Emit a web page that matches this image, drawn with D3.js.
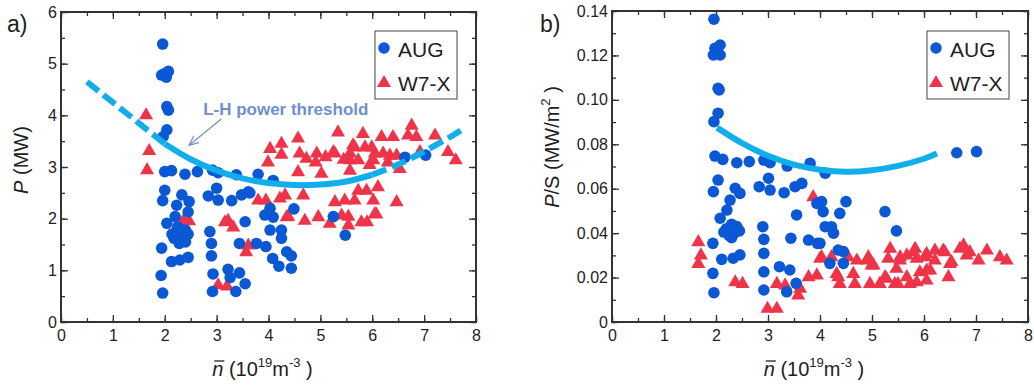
<!DOCTYPE html>
<html>
<head>
<meta charset="utf-8">
<script src="https://cdn.jsdelivr.net/npm/d3@7"></script>
<style>
  body { margin: 0; background: #fff; }
  svg { display: block; font-family: "Liberation Sans", Arial, sans-serif; }
</style>
</head>
<body>
<svg id="chart" width="1034" height="385"></svg>
<script>
// ---- data ----
const xTicks = [0, 1, 2, 3, 4, 5, 6, 7, 8];
const yTicksA = [0, 1, 2, 3, 4, 5, 6];
const yTicksB = [0, 0.02, 0.04, 0.06, 0.08, 0.10, 0.12, 0.14];
const seriesNames = ['AUG', 'W7-X'];

// panel a: [n, P (MW)]
const augA = [
  [1.96, 5.38], [2.00, 4.81], [2.07, 4.85], [1.94, 4.78], [2.03, 4.74],
  [2.04, 4.17], [2.07, 4.10], [2.04, 3.72], [1.97, 3.59],
  [2.00, 2.91], [2.13, 2.93], [2.39, 2.86], [2.63, 2.91], [2.92, 2.94], [3.03, 2.89],
  [3.38, 2.85], [3.80, 2.86], [4.09, 2.74], [3.61, 2.52],
  [2.00, 2.55], [1.96, 2.35], [2.33, 2.46], [2.47, 2.33], [2.23, 2.26], [2.45, 2.13],
  [2.20, 2.04], [2.04, 1.91], [2.84, 2.44], [3.00, 2.59], [3.03, 2.36], [3.29, 2.35],
  [3.48, 2.46], [3.64, 2.50],
  [2.25, 1.84], [2.30, 1.70], [2.18, 1.62], [2.40, 1.78], [2.35, 1.60], [2.14, 1.70],
  [2.45, 1.70], [2.28, 1.52], [2.40, 1.55], [2.22, 1.75],
  [1.94, 1.43], [2.13, 1.17], [2.29, 1.20], [2.45, 1.25], [1.93, 0.90], [1.96, 0.56],
  [2.87, 1.75], [2.90, 1.52], [2.90, 1.28], [2.93, 0.93], [2.92, 0.59],
  [3.22, 1.02], [3.44, 0.95], [3.26, 0.86], [3.55, 0.74], [3.37, 0.59],
  [3.44, 1.52], [3.55, 1.94], [3.77, 1.52], [3.95, 1.46],
  [4.03, 2.20], [4.09, 2.03], [3.93, 2.07], [4.03, 1.78], [4.25, 1.78], [4.25, 1.62],
  [4.08, 1.23], [4.20, 1.08], [4.35, 1.36], [4.44, 1.28], [4.44, 1.04],
  [4.49, 2.19], [5.25, 2.04], [5.48, 1.68], [6.63, 3.19], [7.03, 3.23]
];
const w7xA = [
  [1.64, 4.01], [1.70, 3.32], [1.66, 2.95],
  [2.47, 1.96], [2.36, 1.97], [3.16, 1.94], [3.32, 1.84], [3.22, 1.97],
  [3.61, 1.49], [3.57, 1.36], [3.03, 0.72], [3.20, 0.70],
  [3.80, 2.36], [3.95, 2.36], [4.32, 2.46], [4.35, 2.04], [4.22, 2.40],
  [4.03, 3.36], [4.25, 3.46], [3.99, 3.10], [4.25, 3.25],
  [4.57, 3.56], [4.60, 3.27], [4.73, 3.17], [4.93, 3.27], [4.91, 3.10],
  [4.57, 2.91], [5.02, 2.88], [5.34, 3.68], [5.28, 3.27], [5.25, 3.30], [5.10, 3.20],
  [5.57, 3.27], [5.66, 3.39], [5.63, 3.43], [5.82, 3.65], [5.86, 3.39], [5.99, 3.39],
  [6.05, 3.27], [6.18, 3.59], [6.21, 3.27], [6.40, 3.59], [6.47, 3.23],
  [6.76, 3.81], [6.69, 3.62], [6.85, 3.59], [6.92, 3.30], [7.21, 3.62],
  [7.46, 3.30], [7.61, 3.14], [6.53, 2.97], [6.34, 3.23], [6.30, 3.10],
  [5.57, 3.14], [5.73, 3.14], [6.02, 3.14], [5.45, 3.15], [5.95, 3.05], [5.57, 2.94],
  [5.73, 2.55], [5.89, 2.55], [6.11, 2.62], [6.02, 2.36], [6.47, 2.33],
  [5.66, 2.36], [5.47, 2.36], [5.28, 2.33], [4.67, 2.46],
  [4.38, 2.05], [4.70, 1.97], [4.96, 2.04], [5.18, 1.91], [5.41, 2.07],
  [5.54, 2.05], [5.54, 1.88], [5.79, 1.94], [5.90, 1.94], [6.08, 2.09], [6.05, 2.10]
];
// L-H threshold curve, panel a
const lhA = [
  [0.5, 4.65], [1.0, 4.25], [1.5, 3.85], [2.0, 3.45], [2.5, 3.15], [3.0, 2.93],
  [3.5, 2.78], [4.0, 2.69], [4.5, 2.65], [5.0, 2.66], [5.5, 2.72], [6.0, 2.85],
  [6.5, 3.05], [7.0, 3.30], [7.5, 3.58], [7.8, 3.77]
];
const lhASolid = [3, 11]; // index range drawn solid, rest dashed

// panel b: [n, P/S (MW/m^2)]
const augB = [
  [1.96, 0.1363], [1.98, 0.1232], [2.08, 0.1247], [1.95, 0.1202], [2.08, 0.1202],
  [2.04, 0.1052], [2.06, 0.1045], [2.04, 0.0940], [1.96, 0.0902],
  [1.98, 0.0747], [2.13, 0.0732], [2.40, 0.0717], [2.64, 0.0722], [2.92, 0.0729],
  [3.04, 0.0717], [3.37, 0.0702], [3.81, 0.0714], [4.10, 0.0670],
  [2.04, 0.0639], [1.95, 0.0587], [2.37, 0.0602], [2.46, 0.0579], [2.83, 0.0609],
  [3.01, 0.0647], [3.04, 0.0594], [3.31, 0.0582], [3.52, 0.0609], [3.65, 0.0624],
  [2.27, 0.0549], [2.21, 0.0504], [2.08, 0.0467], [2.20, 0.0420], [2.30, 0.0440],
  [2.40, 0.0430], [2.25, 0.0390], [2.35, 0.0400], [2.15, 0.0405], [2.45, 0.0410],
  [2.30, 0.0380], [1.94, 0.0354], [2.11, 0.0282], [2.33, 0.0287], [2.46, 0.0302],
  [1.94, 0.0219], [1.96, 0.0132],
  [2.90, 0.0429], [2.92, 0.0372], [2.92, 0.0309], [2.92, 0.0226], [2.92, 0.0144],
  [3.44, 0.0377], [3.55, 0.0482], [3.78, 0.0369], [3.95, 0.0354], [3.94, 0.0534],
  [4.06, 0.0497], [4.10, 0.0429], [3.22, 0.0249], [3.42, 0.0234], [3.36, 0.0136],
  [3.54, 0.0174], [6.63, 0.0762], [7.01, 0.0767], [4.50, 0.0542], [4.03, 0.0542],
  [4.38, 0.0489], [5.25, 0.0497], [5.47, 0.0410], [4.22, 0.0429], [4.26, 0.0400],
  [4.35, 0.0324], [4.45, 0.0317], [4.45, 0.0264], [4.19, 0.0264], [4.00, 0.0354]
];
const w7xB = [
  [1.66, 0.0362], [1.71, 0.0302], [1.66, 0.0264], [2.37, 0.0181], [2.51, 0.0174],
  [2.99, 0.0062], [3.17, 0.0062], [3.87, 0.0564], [3.17, 0.0174], [3.33, 0.0167],
  [3.58, 0.0122], [3.62, 0.0152], [3.78, 0.0204], [3.94, 0.0212], [4.00, 0.0287],
  [4.03, 0.0294], [4.22, 0.0294], [4.35, 0.0204], [4.38, 0.0174], [4.54, 0.0294],
  [4.71, 0.0279], [4.67, 0.0174], [4.90, 0.0279], [4.99, 0.0257], [4.96, 0.0174],
  [5.15, 0.0174], [5.28, 0.0197], [5.35, 0.0332], [5.31, 0.0287], [5.54, 0.0294],
  [5.47, 0.0242], [5.44, 0.0174], [5.67, 0.0204], [5.67, 0.0302], [5.83, 0.0332],
  [5.86, 0.0287], [5.86, 0.0181], [6.02, 0.0294], [6.05, 0.0234], [6.05, 0.0189],
  [6.21, 0.0324], [6.21, 0.0279], [6.37, 0.0324], [6.47, 0.0204], [6.53, 0.0272],
  [6.69, 0.0332], [6.76, 0.0347], [6.88, 0.0317], [7.05, 0.0279], [7.21, 0.0324],
  [7.46, 0.0294], [7.59, 0.0279], [4.32, 0.0219], [4.64, 0.0219], [5.25, 0.0204],
  [5.50, 0.0174], [5.73, 0.0174], [5.92, 0.0226], [6.12, 0.0234], [6.50, 0.0264],
  [5.54, 0.0279], [5.80, 0.0317], [6.05, 0.0309], [6.40, 0.0317], [6.82, 0.0302],
  [4.93, 0.0294], [5.03, 0.0257]
];
// threshold curve, panel b (solid)
const lhB = [
  [2.02, 0.0875], [2.5, 0.0805], [3.0, 0.0748], [3.5, 0.0708], [4.0, 0.0685],
  [4.5, 0.0676], [5.0, 0.0683], [5.5, 0.0703], [6.0, 0.0735], [6.25, 0.0758]
];

// annotation in panel a: text anchor, arrow start, arrow end
const annoText = 'L-H power threshold';
const annoAt = [2.74, 4.0];
const annoArrow = [[3.09, 3.93], [2.47, 3.42]];

// ---- style ----
const blue = '#0a58d4';
const red = '#ef3349';
const cyan = '#12aeea';
const annoColor = '#6f8fce';
const axisColor = '#333';

const svg = d3.select('#chart');

svg.append('defs').append('marker')
  .attr('id', 'arrow')
  .attr('viewBox', '0 0 10 10')
  .attr('refX', 9).attr('refY', 5)
  .attr('markerWidth', 9).attr('markerHeight', 9)
  .attr('orient', 'auto')
  .append('path')
  .attr('d', 'M0,1 L9,5 L0,9')
  .attr('fill', 'none')
  .attr('stroke', annoColor)
  .attr('stroke-width', 1.2);

function drawPanel (p) {
  const x = d3.scaleLinear().domain([0, 8]).range([p.left, p.right]);
  const y = d3.scaleLinear().domain([0, p.yMax]).range([p.bottom, p.top]);
  const g = svg.append('g');

  // minor + major ticks, all four sides, pointing inward
  const xMinor = d3.range(0, 8.001, 0.5);
  const yMinor = d3.range(0, p.yMax + 1e-9, p.yMinorStep);
  const addAxis = (axis, tx, ty) => {
    const a = g.append('g').attr('transform', `translate(${tx},${ty})`).call(axis);
    a.select('.domain').remove();
    a.selectAll('line').attr('stroke', axisColor).attr('stroke-width', 1.3);
    a.selectAll('text').attr('font-size', 16).attr('fill', '#222')
      .attr('font-family', '"Liberation Sans", Arial, sans-serif');
    return a;
  };
  addAxis(d3.axisBottom(x).tickValues(xMinor).tickSize(-4).tickFormat(''), 0, p.bottom);
  addAxis(d3.axisTop(x).tickValues(xMinor).tickSize(-4).tickFormat(''), 0, p.top);
  addAxis(d3.axisLeft(y).tickValues(yMinor).tickSize(-4).tickFormat(''), p.left, 0);
  addAxis(d3.axisRight(y).tickValues(yMinor).tickSize(-4).tickFormat(''), p.right, 0);
  addAxis(d3.axisBottom(x).tickValues(xTicks).tickSize(-7).tickPadding(8).tickFormat(d3.format('d')), 0, p.bottom);
  addAxis(d3.axisTop(x).tickValues(xTicks).tickSize(-7).tickFormat(''), 0, p.top);
  addAxis(d3.axisLeft(y).tickValues(p.yTicks).tickSize(-7).tickPadding(4).tickFormat(p.yFormat), p.left, 0);
  addAxis(d3.axisRight(y).tickValues(p.yTicks).tickSize(-7).tickFormat(''), p.right, 0);

  g.append('rect')
    .attr('x', p.left).attr('y', p.top)
    .attr('width', p.right - p.left).attr('height', p.bottom - p.top)
    .attr('fill', 'none').attr('stroke', axisColor).attr('stroke-width', 2);

  const tri = d3.symbol(d3.symbolTriangle, 85);
  const plot = g.append('g');
  plot.selectAll('path.w7x')
    .data(p.w7x)
    .join('path')
    .attr('class', 'w7x')
    .attr('d', tri)
    .attr('transform', d => `translate(${x(d[0])},${y(d[1]) + 0.5})`)
    .attr('fill', red);
  plot.selectAll('circle.aug')
    .data(p.aug)
    .join('circle')
    .attr('class', 'aug')
    .attr('cx', d => x(d[0]))
    .attr('cy', d => y(d[1]))
    .attr('r', 5.8)
    .attr('fill', blue);

  // threshold curve
  const line = d3.line().x(d => x(d[0])).y(d => y(d[1])).curve(d3.curveCatmullRom);
  p.curves.forEach(c => {
    plot.append('path')
      .attr('d', line(c.pts))
      .attr('fill', 'none')
      .attr('stroke', cyan)
      .attr('stroke-width', 6)
      .attr('stroke-dasharray', c.dashed ? '15,6' : null);
  });

  // panel letter
  g.append('text').attr('x', p.letterX).attr('y', 32)
    .attr('font-size', 23).attr('fill', '#222').text(p.letter);

  // y title
  const yt = g.append('text')
    .attr('transform', `translate(${p.yTitleX},${p.yTitleY}) rotate(-90)`)
    .attr('text-anchor', 'middle')
    .attr('font-size', 20).attr('fill', '#222');
  p.yTitle(yt);

  // x title: n with a bar, then (10^19 m^-3 )
  const xc = (p.left + p.right) / 2 - 6;
  const xt = g.append('text')
    .attr('x', xc).attr('y', 376)
    .attr('text-anchor', 'middle')
    .attr('font-size', 20).attr('fill', '#222');
  xt.append('tspan').attr('font-style', 'italic').text('n');
  xt.append('tspan').text(' (10');
  xt.append('tspan').attr('font-size', 13).attr('dy', -9).text('19');
  xt.append('tspan').attr('dy', 9).text('m');
  xt.append('tspan').attr('font-size', 13).attr('dy', -9).text('-3');
  xt.append('tspan').attr('dy', 9).text(' )');
  const nb = xt.node().getExtentOfChar(0);
  g.append('line')
    .attr('x1', nb.x + 2).attr('x2', nb.x + nb.width + 1)
    .attr('y1', nb.y + 3).attr('y2', nb.y + 3)
    .attr('stroke', '#222').attr('stroke-width', 1.3);

  // legend
  const lg = g.append('g').attr('transform', `translate(${p.right - p.legendRight},31)`);
  lg.append('rect').attr('width', 82).attr('height', 68)
    .attr('fill', '#fff').attr('stroke', '#444').attr('stroke-width', 1);
  lg.append('circle').attr('cx', 9).attr('cy', 17).attr('r', 5.8).attr('fill', blue);
  lg.append('path').attr('d', tri).attr('transform', 'translate(9,52)').attr('fill', red);
  seriesNames.forEach((name, i) => {
    lg.append('text').attr('x', 23).attr('y', 26 + i * 34)
      .attr('font-size', 21).attr('fill', '#222').text(name);
  });

  if (p.annotate) p.annotate(g, x, y);
}

drawPanel({
  left: 61, right: 476, top: 12, bottom: 322,
  yMax: 6, yMinorStep: 0.5, yTicks: yTicksA, yFormat: d3.format('d'),
  aug: augA, w7x: w7xA,
  curves: [
    { pts: lhA.slice(0, lhASolid[0] + 1), dashed: true },
    { pts: lhA.slice(lhASolid[0], lhASolid[1] + 1), dashed: false },
    { pts: lhA.slice(lhASolid[1]), dashed: true }
  ],
  letter: 'a)', letterX: 7,
  yTitleX: 28, yTitleY: 160,
  yTitle: t => {
    t.append('tspan').attr('font-style', 'italic').text('P');
    t.append('tspan').text(' (MW)');
  },
  legendRight: 101,
  annotate: (g, x, y) => {
    g.append('text').attr('x', x(annoAt[0])).attr('y', y(annoAt[1]))
      .attr('font-size', 17).attr('font-weight', 'bold').attr('fill', annoColor)
      .text(annoText);
    g.append('line')
      .attr('x1', x(annoArrow[0][0])).attr('y1', y(annoArrow[0][1]))
      .attr('x2', x(annoArrow[1][0])).attr('y2', y(annoArrow[1][1]))
      .attr('stroke', annoColor).attr('stroke-width', 1.2)
      .attr('marker-end', 'url(#arrow)');
  }
});

drawPanel({
  left: 612, right: 1028, top: 11, bottom: 322,
  yMax: 0.14, yMinorStep: 0.01, yTicks: yTicksB,
  yFormat: d => d === 0 ? '0' : d3.format('.2f')(d),
  aug: augB, w7x: w7xB,
  curves: [{ pts: lhB, dashed: false }],
  letter: 'b)', letterX: 540,
  yTitleX: 559, yTitleY: 147,
  yTitle: t => {
    t.append('tspan').attr('font-style', 'italic').text('P');
    t.append('tspan').text('/S (MW/m');
    t.append('tspan').attr('font-size', 13).attr('dy', -9).text('2');
    t.append('tspan').attr('dy', 9).text(' )');
  },
  legendRight: 101
});
</script>
</body>
</html>
